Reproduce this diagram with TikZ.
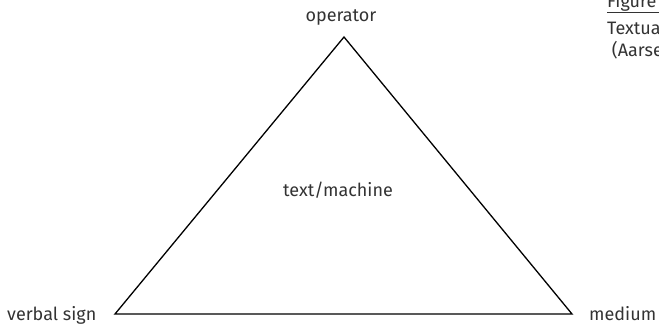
\documentclass[tikz,border=0pt]{standalone}
\usepackage{fontspec}
\setmainfont{Fira Sans}
\definecolor{ink}{HTML}{333333}
\begin{document}
\begin{tikzpicture}[x=1pt,y=-1pt,
  lbl/.style={inner sep=0pt, text=ink, font=\fontsize{18}{21}\selectfont},
  edge/.style={draw=black, line width=1.3pt, line join=miter}]
\useasboundingbox (0,0) rectangle (659,331);
\clip (0,0) rectangle (659,331);
\coordinate (top) at (344,37);
\coordinate (bl) at (115,314);
\coordinate (br) at (572,314);
\draw[edge] (top) -- (br) -- (bl) -- cycle;
\node[lbl, anchor=base] (op) at (341,22) {operator};
\node[lbl, anchor=base west] (vs) at (7,320) {verbal sign};
\node[lbl, anchor=base west] (me) at (589,320) {medium};
\node[lbl, anchor=base] (tm) at (338,197) {text/machine};
\node[lbl, anchor=base west] (fig) at (607,8) {Figure 1};
\draw[draw=ink, line width=1pt] (fig.base west) ++(0,5) coordinate (ul1) -- ++(80,0) coordinate (ul2);
\node[lbl, anchor=base west] (t1) at (607,35) {Textual communication};
\node[lbl, anchor=base west] (t2) at (607,57) {\ (Aarseth 1997)};
\end{tikzpicture}
\end{document}
